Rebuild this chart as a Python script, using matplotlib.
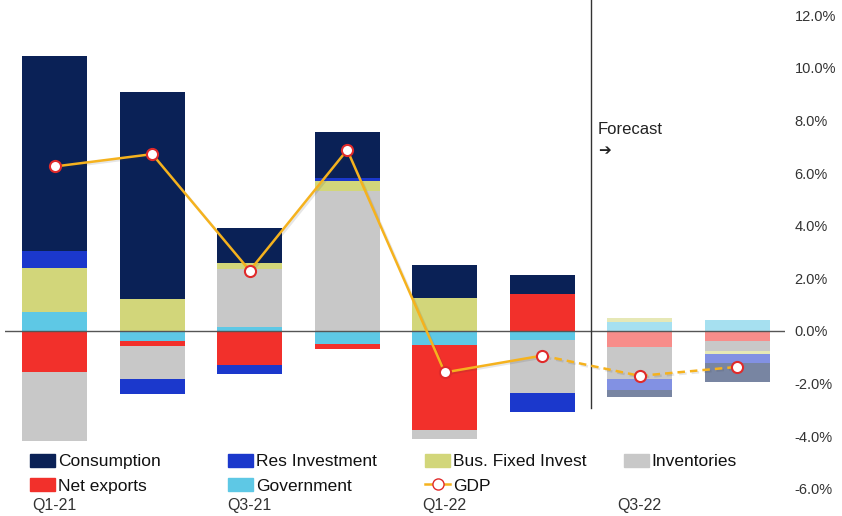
import matplotlib.pyplot as plt
import matplotlib.patheffects as pe
import numpy as np
from matplotlib.legend import Legend
from matplotlib.lines import Line2D
from matplotlib.patches import Patch

plt.rcParams['font.family'] = ['Liberation Sans', 'DejaVu Sans']

# Data (contributions to GDP growth, %)
quarters = ['Q1-21', 'Q2-21', 'Q3-21', 'Q4-21', 'Q1-22', 'Q2-22', 'Q3-22', 'Q4-22']
tick_labels = ['Q1-21', '', 'Q3-21', '', 'Q1-22', '', 'Q3-22', '']
government = [0.73, -0.38, 0.14, -0.49, -0.53, -0.34, 0.32, 0.41]
net_exports = [-1.57, -0.18, -1.29, -0.21, -3.23, 1.41, -0.60, -0.38]
inventories = [-2.60, -1.27, 2.21, 5.30, -0.36, -2.03, -1.23, -0.39]
bus_fixed = [1.65, 1.20, 0.22, 0.40, 1.24, 0.00, 0.16, -0.12]
res_invest = [0.64, -0.58, -0.36, 0.13, 0.00, -0.70, -0.41, -0.34]
consumption = [7.44, 7.90, 1.36, 1.74, 1.27, 0.72, -0.29, -0.70]
gdp = [6.25, 6.72, 2.29, 6.88, -1.58, -0.94, -1.71, -1.37]
n_actual = 6  # last two quarters are forecast

# stacking order (bottom to top), Excel style
series = [
    ('Government', government, '#5ec8e5'),
    ('Net exports', net_exports, '#f2302b'),
    ('Inventories', inventories, '#c8c8c8'),
    ('Bus. Fixed Invest', bus_fixed, '#d2d67a'),
    ('Res Investment', res_invest, '#1b38cc'),
    ('Consumption', consumption, '#0a2156'),
]
colors = {name: c for name, _, c in series}

fig = plt.figure(figsize=(8.42, 5.16), dpi=100)
ax = fig.add_axes([5 / 842, 21 / 516, 780 / 842, 495 / 516])

x = np.arange(len(quarters))
pos = np.zeros(len(quarters))
neg = np.zeros(len(quarters))
for name, vals, col in series:
    vals = np.array(vals)
    bottoms = np.where(vals >= 0, pos, neg)
    fc_alpha = 1.0 if name == 'Inventories' else 0.55
    for i in range(len(x)):
        if vals[i] == 0:
            continue
        ax.bar(x[i], vals[i], 0.67, bottom=bottoms[i], color=col,
               alpha=1.0 if i < n_actual else fc_alpha, linewidth=0, zorder=2)
    pos = pos + np.where(vals >= 0, vals, 0)
    neg = neg + np.where(vals < 0, vals, 0)

ax.axhline(0, color='#555555', linewidth=1, zorder=3)

# GDP line
gdp_col = '#f5b21e'
shadow = [pe.SimpleLineShadow(offset=(1.2, -1.2), alpha=0.12, shadow_color='#333333'),
          pe.Normal()]
ax.plot(x[:n_actual], gdp[:n_actual], color=gdp_col, linewidth=1.8, zorder=4,
        path_effects=shadow)
ax.plot(x[n_actual - 1:], gdp[n_actual - 1:], color=gdp_col, linewidth=1.8,
        linestyle=(0, (3, 2)), zorder=4, path_effects=shadow)
ax.plot(x, gdp, linestyle='none', marker='o', markersize=8, markerfacecolor='white',
        markeredgecolor='#e02a2a', markeredgewidth=1.5, zorder=5)

# forecast divider
ylo, yhi = -6.24, 12.58
ax.plot([5.5, 5.5], [-2.93, yhi], color='#333333', linewidth=1, zorder=3)
ax.text(5.57, 7.64, 'Forecast', fontsize=12, color='#222222', va='center')
ax.text(5.57, 6.85, '\u2794', fontsize=11, family=['DejaVu Sans'], color='#222222',
        va='center')

ax.set_xlim(-0.51, 7.49)
ax.set_ylim(ylo, yhi)
ax.set_xticks(x)
ax.set_xticklabels(tick_labels, fontsize=11.5, color='#333333')
ax.tick_params(axis='x', length=0, pad=2)
ax.yaxis.tick_right()
ax.set_yticks(np.arange(-6, 13, 2))
ax.set_yticklabels([f'{v:.1f}%' for v in np.arange(-6, 13, 2)], fontsize=10.5,
                   color='#333333')
ax.tick_params(axis='y', length=0, pad=7)
for s in ax.spines.values():
    s.set_visible(False)

# legend: four columns placed at fixed positions
gdp_handle = Line2D([], [], color=gdp_col, marker='o', markerfacecolor='white',
                    markeredgecolor='#e02a2a', markersize=8, linewidth=1.8)
columns = [
    (30, [('Consumption', Patch(color=colors['Consumption'])),
          ('Net exports', Patch(color=colors['Net exports']))]),
    (228, [('Res Investment', Patch(color=colors['Res Investment'])),
           ('Government', Patch(color=colors['Government']))]),
    (425, [('Bus. Fixed Invest', Patch(color=colors['Bus. Fixed Invest'])),
           ('GDP', gdp_handle)]),
    (624, [('Inventories', Patch(color=colors['Inventories']))]),
]
for px, items in columns:
    leg = Legend(ax, [h for _, h in items], [lab for lab, _ in items],
                 loc='upper left', bbox_to_anchor=((px - 5) / 780, (495 - 454) / 495),
                 frameon=False, fontsize=12.5, handlelength=1.45, handleheight=0.75,
                 handletextpad=0.15, labelspacing=0.5, borderpad=0, borderaxespad=0)
    for t in leg.get_texts():
        t.set_color('#111111')
    ax.add_artist(leg)

fig.savefig('out.png', dpi=100)
